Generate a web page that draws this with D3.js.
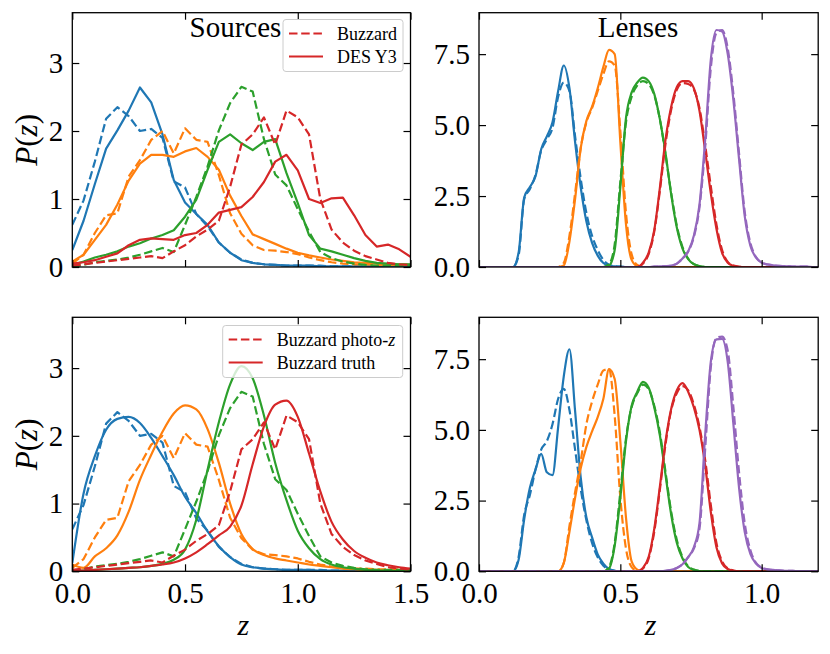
<!DOCTYPE html>
<html>
<head>
<meta charset="utf-8">
<script src="https://cdn.jsdelivr.net/npm/d3@7"></script>
<style>
  body { margin: 0; background: #fff; }
  svg { display: block; background: #fff; }
</style>
</head>
<body>
<script>
// redshift grid for the source bins
const zSrc = [0, 0.05, 0.1, 0.15, 0.2, 0.25, 0.3, 0.35, 0.4, 0.45, 0.5, 0.55, 0.6, 0.65, 0.7, 0.75,
  0.8, 0.85, 0.9, 0.95, 1.0, 1.05, 1.1, 1.15, 1.2, 1.25, 1.3, 1.35, 1.4, 1.45, 1.5];

// Buzzard photo-z, source bins (dashed, same in both rows)
const bzSrc1 = [0.62, 0.98, 1.55, 2.18, 2.35, 2.22, 2.0, 2.03, 1.9, 1.26, 1.17, 0.78, 0.6, 0.36, 0.21, 0.11, 0.06, 0.04, 0.03, 0.02, 0.02, 0.02, 0.02, 0.01, 0.01, 0.01, 0.01, 0.01, 0.01, 0.01, 0.01];
const bzSrc2 = [0.05, 0.18, 0.5, 0.76, 0.79, 1.33, 1.57, 1.87, 2.0, 1.67, 2.04, 1.87, 1.84, 1.35, 0.79, 0.49, 0.32, 0.25, 0.24, 0.22, 0.19, 0.14, 0.1, 0.07, 0.05, 0.04, 0.04, 0.03, 0.03, 0.03, 0.03];
const bzSrc3 = [0.0, 0.03, 0.07, 0.09, 0.11, 0.14, 0.18, 0.23, 0.28, 0.22, 0.62, 1.03, 1.48, 2.01, 2.41, 2.65, 2.58, 1.88, 1.36, 1.2, 0.85, 0.52, 0.22, 0.13, 0.08, 0.05, 0.03, 0.02, 0.02, 0.02, 0.02];
const bzSrc4 = [0.02, 0.04, 0.06, 0.08, 0.1, 0.12, 0.14, 0.16, 0.13, 0.23, 0.32, 0.45, 0.55, 0.68, 1.18, 1.8, 1.95, 2.2, 1.8, 2.3, 2.2, 1.95, 1.0, 0.55, 0.36, 0.24, 0.16, 0.11, 0.06, 0.04, 0.03];

// DES Y3, source bins
const desSrc1 = [0.25, 0.68, 1.22, 1.74, 2.01, 2.3, 2.64, 2.42, 1.95, 1.28, 0.95, 0.78, 0.62, 0.36, 0.21, 0.1, 0.06, 0.04, 0.03, 0.02, 0.02, 0.02, 0.01, 0.01, 0.01, 0.01, 0.01, 0.01, 0.01, 0.01, 0.01];
const desSrc2 = [0.08, 0.18, 0.4, 0.62, 0.92, 1.27, 1.52, 1.65, 1.65, 1.62, 1.7, 1.75, 1.62, 1.43, 1.05, 0.75, 0.48, 0.41, 0.34, 0.27, 0.21, 0.17, 0.14, 0.11, 0.09, 0.07, 0.06, 0.05, 0.04, 0.04, 0.03];
const desSrc3 = [0.03, 0.08, 0.14, 0.18, 0.23, 0.3, 0.35, 0.42, 0.47, 0.54, 0.74, 0.99, 1.43, 1.84, 1.95, 1.82, 1.72, 1.84, 1.88, 1.38, 0.94, 0.47, 0.27, 0.23, 0.18, 0.13, 0.09, 0.06, 0.05, 0.04, 0.04];
const desSrc4 = [0.05, 0.07, 0.1, 0.15, 0.2, 0.32, 0.4, 0.42, 0.41, 0.4, 0.47, 0.5, 0.62, 0.8, 0.84, 0.88, 1.03, 1.25, 1.55, 1.65, 1.42, 1.0, 0.94, 1.01, 1.02, 0.76, 0.47, 0.3, 0.33, 0.26, 0.15];

// Buzzard truth, source bins
const truthSrc1 = [0.12, 1.15, 1.7, 2.09, 2.25, 2.28, 2.19, 1.97, 1.7, 1.42, 1.1, 0.86, 0.59, 0.37, 0.21, 0.1, 0.06, 0.04, 0.03, 0.02, 0.02, 0.02, 0.01, 0.01, 0.01, 0.01, 0.01, 0.01, 0.01, 0.01, 0.01];
const truthSrc2 = [0.1, 0.05, 0.22, 0.34, 0.53, 0.88, 1.35, 1.72, 2.06, 2.33, 2.45, 2.39, 2.1, 1.6, 1.0, 0.55, 0.33, 0.24, 0.19, 0.16, 0.13, 0.1, 0.08, 0.06, 0.04, 0.03, 0.02, 0.02, 0.01, 0.01, 0.01];
const truthSrc3 = [0.0, 0.01, 0.02, 0.03, 0.04, 0.05, 0.06, 0.08, 0.11, 0.17, 0.32, 0.76, 1.5, 2.2, 2.76, 3.03, 2.85, 2.3, 1.6, 1.05, 0.6, 0.34, 0.18, 0.1, 0.06, 0.04, 0.02, 0.01, 0.01, 0.0, 0.0];
const truthSrc4 = [0.01, 0.01, 0.02, 0.03, 0.04, 0.05, 0.06, 0.08, 0.1, 0.13, 0.19, 0.28, 0.4, 0.53, 0.66, 0.97, 1.58, 2.14, 2.46, 2.52, 2.28, 1.74, 1.18, 0.73, 0.47, 0.3, 0.2, 0.13, 0.09, 0.06, 0.04];

// redshift grid for the lens bins
const zLens = [0, 0.02, 0.04, 0.06, 0.08, 0.1, 0.12, 0.14, 0.16, 0.18,
  0.2, 0.22, 0.24, 0.26, 0.28, 0.3, 0.32, 0.34, 0.36, 0.38,
  0.4, 0.42, 0.44, 0.46, 0.48, 0.5, 0.52, 0.54, 0.56, 0.58,
  0.6, 0.62, 0.64, 0.66, 0.68, 0.7, 0.72, 0.74, 0.76, 0.78,
  0.8, 0.82, 0.84, 0.86, 0.88, 0.9, 0.92, 0.94, 0.96, 0.98,
  1.0, 1.02, 1.04, 1.06, 1.08, 1.1, 1.12, 1.14, 1.16, 1.18, 1.2];

// top right: DES Y3 (solid) vs Buzzard (dashed)
const desLens1 = [0, 0, 0, 0, 0, 0, 0, 0.5, 2.45, 2.82,
  3.2, 4.15, 4.6, 5.1, 6.2, 7.1, 6.3, 4.4, 2.8, 1.6,
  0.85, 0.4, 0.14, 0.05, 0.02, 0.01, 0, 0, 0, 0,
  0, 0, 0, 0, 0, 0, 0, 0, 0, 0, 0, 0, 0, 0, 0, 0, 0, 0, 0, 0, 0, 0, 0, 0, 0, 0, 0, 0, 0, 0, 0];
const bzLensTop1 = [0, 0, 0, 0, 0, 0, 0, 0.4, 2.4, 2.75,
  3.25, 4.1, 4.5, 4.9, 6.0, 6.5, 6.2, 4.6, 3.1, 1.9,
  1.1, 0.6, 0.25, 0.08, 0.03, 0.01, 0, 0, 0, 0,
  0, 0, 0, 0, 0, 0, 0, 0, 0, 0, 0, 0, 0, 0, 0, 0, 0, 0, 0, 0, 0, 0, 0, 0, 0, 0, 0, 0, 0, 0, 0];
const desLens2 = [0, 0, 0, 0, 0, 0, 0, 0, 0, 0,
  0, 0, 0, 0, 0, 0.05, 0.9, 2.4, 4.2, 5.15,
  5.65, 6.3, 7.05, 7.65, 7.5, 4.4, 1.5, 0.25, 0.03, 0,
  0, 0, 0, 0, 0, 0, 0, 0, 0, 0, 0, 0, 0, 0, 0, 0, 0, 0, 0, 0, 0, 0, 0, 0, 0, 0, 0, 0, 0, 0, 0];
const bzLensTop2 = [0, 0, 0, 0, 0, 0, 0, 0, 0, 0,
  0, 0, 0, 0, 0, 0.15, 1.1, 2.6, 4.2, 5.1,
  5.6, 6.2, 6.8, 7.25, 7.1, 4.8, 1.9, 0.45, 0.07, 0,
  0, 0, 0, 0, 0, 0, 0, 0, 0, 0, 0, 0, 0, 0, 0, 0, 0, 0, 0, 0, 0, 0, 0, 0, 0, 0, 0, 0, 0, 0, 0];
const desLens3 = [0, 0, 0, 0, 0, 0, 0, 0, 0, 0, 0, 0, 0, 0, 0, 0, 0, 0, 0, 0,
  0, 0, 0, 0.05, 0.6, 2.8, 5.25, 6.15, 6.5, 6.67,
  6.55, 6.1, 5.2, 4.0, 2.55, 1.38, 0.65, 0.28, 0.1, 0.03,
  0, 0, 0, 0, 0, 0, 0, 0, 0, 0, 0, 0, 0, 0, 0, 0, 0, 0, 0, 0, 0];
const bzLensTop3 = [0, 0, 0, 0, 0, 0, 0, 0, 0, 0, 0, 0, 0, 0, 0, 0, 0, 0, 0, 0,
  0, 0, 0, 0.1, 0.8, 3.0, 5.1, 6.0, 6.4, 6.55,
  6.45, 6.05, 5.2, 3.95, 2.6, 1.45, 0.7, 0.3, 0.1, 0.03,
  0, 0, 0, 0, 0, 0, 0, 0, 0, 0, 0, 0, 0, 0, 0, 0, 0, 0, 0, 0, 0];
const desLens4 = [0, 0, 0, 0, 0, 0, 0, 0, 0, 0, 0, 0, 0, 0, 0, 0, 0, 0, 0, 0,
  0, 0, 0, 0, 0, 0, 0, 0, 0, 0.15,
  0.5, 1.3, 2.8, 4.5, 5.65, 6.34, 6.55, 6.55, 6.3, 5.5,
  4.1, 2.6, 1.35, 0.5, 0.15, 0.04, 0, 0, 0, 0,
  0, 0, 0, 0, 0, 0, 0, 0, 0, 0, 0];
const bzLensTop4 = [0, 0, 0, 0, 0, 0, 0, 0, 0, 0, 0, 0, 0, 0, 0, 0, 0, 0, 0, 0,
  0, 0, 0, 0, 0, 0, 0, 0, 0, 0.12,
  0.45, 1.25, 2.7, 4.35, 5.55, 6.25, 6.48, 6.45, 6.25, 5.6,
  4.3, 2.85, 1.5, 0.6, 0.18, 0.05, 0.01, 0, 0, 0,
  0, 0, 0, 0, 0, 0, 0, 0, 0, 0, 0];
const desLens5 = [0, 0, 0, 0, 0, 0, 0, 0, 0, 0, 0, 0, 0, 0, 0, 0, 0, 0, 0, 0, 0, 0, 0, 0, 0, 0, 0, 0, 0, 0,
  0, 0.01, 0.02, 0.03, 0.05, 0.12, 0.3, 0.55, 1.1, 2.2,
  4.47, 7.3, 8.35, 8.3, 7.5, 5.88, 3.8, 1.8, 0.75, 0.33,
  0.15, 0.09, 0.06, 0.04, 0.03, 0.02, 0.01, 0.01, 0.01, 0, 0];
const bzLensTop5 = [0, 0, 0, 0, 0, 0, 0, 0, 0, 0, 0, 0, 0, 0, 0, 0, 0, 0, 0, 0, 0, 0, 0, 0, 0, 0, 0, 0, 0, 0,
  0, 0.01, 0.02, 0.03, 0.05, 0.12, 0.3, 0.55, 1.05, 2.1,
  4.2, 7.0, 8.25, 8.35, 7.7, 6.1, 4.0, 1.95, 0.85, 0.35,
  0.16, 0.09, 0.06, 0.04, 0.03, 0.02, 0.01, 0.01, 0.01, 0, 0];

// bottom right: Buzzard truth (solid) vs Buzzard photo-z (dashed)
const truthLens1 = [0, 0, 0, 0, 0, 0, 0, 0.4, 1.85, 2.95,
  3.6, 4.15, 3.5, 3.4, 5.1, 6.9, 7.85, 5.66, 3.3, 1.9,
  1.2, 0.6, 0.27, 0.08, 0.02, 0, 0, 0, 0, 0,
  0, 0, 0, 0, 0, 0, 0, 0, 0, 0, 0, 0, 0, 0, 0, 0, 0, 0, 0, 0, 0, 0, 0, 0, 0, 0, 0, 0, 0, 0, 0];
const bzLensBot1 = [0, 0, 0, 0, 0, 0, 0, 0.5, 2.0, 2.7,
  3.6, 4.3, 4.6, 5.2, 6.1, 6.45, 5.7, 4.3, 2.9, 1.8,
  1.0, 0.5, 0.2, 0.07, 0.02, 0, 0, 0, 0, 0,
  0, 0, 0, 0, 0, 0, 0, 0, 0, 0, 0, 0, 0, 0, 0, 0, 0, 0, 0, 0, 0, 0, 0, 0, 0, 0, 0, 0, 0, 0, 0];
const truthLens2 = [0, 0, 0, 0, 0, 0, 0, 0, 0, 0,
  0, 0, 0, 0, 0, 0.3, 1.4, 2.6, 3.65, 4.4,
  4.95, 5.45, 6.1, 7.15, 6.8, 4.6, 1.9, 0.35, 0.06, 0,
  0, 0, 0, 0, 0, 0, 0, 0, 0, 0, 0, 0, 0, 0, 0, 0, 0, 0, 0, 0, 0, 0, 0, 0, 0, 0, 0, 0, 0, 0, 0];
const bzLensBot2 = [0, 0, 0, 0, 0, 0, 0, 0, 0, 0,
  0, 0, 0, 0, 0, 0.3, 1.6, 2.8, 3.9, 5.2,
  6.0, 6.6, 7.1, 7.15, 5.5, 2.6, 0.8, 0.15, 0.02, 0,
  0, 0, 0, 0, 0, 0, 0, 0, 0, 0, 0, 0, 0, 0, 0, 0, 0, 0, 0, 0, 0, 0, 0, 0, 0, 0, 0, 0, 0, 0, 0];
const truthLens3 = [0, 0, 0, 0, 0, 0, 0, 0, 0, 0, 0, 0, 0, 0, 0, 0, 0, 0, 0, 0,
  0, 0, 0, 0.1, 0.9, 2.6, 4.6, 5.85, 6.35, 6.7,
  6.5, 5.8, 4.8, 3.4, 2.0, 1.0, 0.45, 0.15, 0.05, 0.01,
  0, 0, 0, 0, 0, 0, 0, 0, 0, 0, 0, 0, 0, 0, 0, 0, 0, 0, 0, 0, 0];
const bzLensBot3 = [0, 0, 0, 0, 0, 0, 0, 0, 0, 0, 0, 0, 0, 0, 0, 0, 0, 0, 0, 0,
  0, 0, 0, 0.15, 1.0, 2.8, 4.7, 5.8, 6.3, 6.6,
  6.45, 5.85, 4.9, 3.5, 2.1, 1.1, 0.5, 0.18, 0.06, 0.01,
  0, 0, 0, 0, 0, 0, 0, 0, 0, 0, 0, 0, 0, 0, 0, 0, 0, 0, 0, 0, 0];
const truthLens4 = [0, 0, 0, 0, 0, 0, 0, 0, 0, 0, 0, 0, 0, 0, 0, 0, 0, 0, 0, 0,
  0, 0, 0, 0, 0, 0, 0, 0, 0, 0.12,
  0.5, 1.5, 3.0, 4.6, 5.75, 6.4, 6.65, 6.35, 5.8, 5.0,
  3.75, 2.1, 0.85, 0.28, 0.08, 0.02, 0, 0, 0, 0,
  0, 0, 0, 0, 0, 0, 0, 0, 0, 0, 0];
const bzLensBot4 = [0, 0, 0, 0, 0, 0, 0, 0, 0, 0, 0, 0, 0, 0, 0, 0, 0, 0, 0, 0,
  0, 0, 0, 0, 0, 0, 0, 0, 0, 0.1,
  0.45, 1.4, 2.9, 4.5, 5.7, 6.3, 6.55, 6.4, 5.9, 5.1,
  3.95, 2.35, 1.0, 0.35, 0.1, 0.03, 0, 0, 0, 0,
  0, 0, 0, 0, 0, 0, 0, 0, 0, 0, 0];
const truthLens5 = [0, 0, 0, 0, 0, 0, 0, 0, 0, 0, 0, 0, 0, 0, 0, 0, 0, 0, 0, 0, 0, 0, 0, 0, 0, 0, 0, 0, 0, 0,
  0, 0.01, 0.01, 0.02, 0.05, 0.12, 0.25, 0.5, 0.85, 1.7,
  4.8, 7.4, 8.2, 8.22, 7.4, 5.2, 2.95, 1.4, 0.62, 0.27,
  0.12, 0.07, 0.05, 0.03, 0.02, 0.02, 0.01, 0.01, 0.01, 0, 0];
const bzLensBot5 = [0, 0, 0, 0, 0, 0, 0, 0, 0, 0, 0, 0, 0, 0, 0, 0, 0, 0, 0, 0, 0, 0, 0, 0, 0, 0, 0, 0, 0, 0,
  0, 0.01, 0.01, 0.02, 0.05, 0.12, 0.25, 0.5, 0.8, 1.5,
  4.3, 7.2, 8.25, 8.3, 7.8, 5.8, 3.5, 1.7, 0.75, 0.3,
  0.13, 0.07, 0.05, 0.03, 0.02, 0.02, 0.01, 0.01, 0.01, 0, 0];

const srcTicksX = [0, 0.5, 1.0, 1.5];
const lensTicksX = [0, 0.5, 1.0];
const srcTicksY = [0, 1, 2, 3];
const lensTicksY = [0, 2.5, 5, 7.5];

const colors = ["#1f77b4", "#ff7f0e", "#2ca02c", "#d62728", "#9467bd"];
const FONT = '"Liberation Serif", "DejaVu Serif", serif';
const DASH = "8.5,3.7";

const svg = d3
  .select("body")
  .append("svg")
  .attr("width", 830)
  .attr("height", 654)
  .style("font-family", FONT);

// pairs of (dashed, solid) curves per bin
function pairs(dashed, solid) {
  const res = [];
  dashed.forEach((d, i) => {
    res.push({ values: d, color: colors[i], dashed: true });
    res.push({ values: solid[i], color: colors[i], dashed: false });
  });
  return res;
}

function drawPanel(p) {
  const x = d3.scaleLinear().domain([0, p.xMax]).range([p.left, p.right]);
  const y = d3.scaleLinear().domain([0, p.yMax]).range([p.bottom, p.top]);

  svg
    .append("clipPath")
    .attr("id", "clip-" + p.id)
    .append("rect")
    .attr("x", p.left)
    .attr("y", p.top)
    .attr("width", p.right - p.left)
    .attr("height", p.bottom - p.top);

  const g = svg.append("g").attr("clip-path", `url(#clip-${p.id})`);

  p.series.forEach((s) => {
    const line = d3
      .line()
      .x((d) => x(d[0]))
      .y((d) => y(d[1]))
      .curve(s.dashed ? p.curveDashed : p.curveSolid);
    g.append("path")
      .datum(d3.zip(p.z, s.values))
      .attr("fill", "none")
      .attr("stroke", s.color)
      .attr("stroke-width", 2.2)
      .attr("stroke-linejoin", "round")
      .attr("stroke-dasharray", s.dashed ? DASH : null)
      .attr("d", line);
  });

  // inward ticks on all four sides
  const axes = [
    d3.axisBottom(x).tickValues(p.xTicks).tickSize(-7).tickSizeOuter(0).tickPadding(11)
      .tickFormat(p.xLabels ? d3.format(".1f") : () => ""),
    d3.axisTop(x).tickValues(p.xTicks).tickSize(-7).tickSizeOuter(0).tickFormat(() => ""),
    d3.axisLeft(y).tickValues(p.yTicks).tickSize(-7).tickSizeOuter(0).tickPadding(9)
      .tickFormat(d3.format(p.yFormat)),
    d3.axisRight(y).tickValues(p.yTicks).tickSize(-7).tickSizeOuter(0).tickFormat(() => ""),
  ];
  const shifts = [
    `translate(0,${p.bottom})`,
    `translate(0,${p.top})`,
    `translate(${p.left},0)`,
    `translate(${p.right},0)`,
  ];
  axes.forEach((a, i) => {
    const ag = svg.append("g").attr("transform", shifts[i]).call(a);
    ag.attr("font-family", FONT).attr("font-size", 29);
    ag.select(".domain").remove();
    ag.selectAll(".tick line").attr("stroke", "#000").attr("stroke-width", 1.2);
    ag.selectAll(".tick text").attr("fill", "#000");
  });

  svg
    .append("rect")
    .attr("x", p.left)
    .attr("y", p.top)
    .attr("width", p.right - p.left)
    .attr("height", p.bottom - p.top)
    .attr("fill", "none")
    .attr("stroke", "#000")
    .attr("stroke-width", 1.3);

  if (p.title) {
    svg
      .append("text")
      .attr("x", p.titleX)
      .attr("y", p.top + 24.6)
      .attr("text-anchor", "middle")
      .attr("font-size", 29)
      .text(p.title);
  }

  if (p.yLabel) {
    const t = svg
      .append("text")
      .attr("transform", `translate(36.5,${(p.top + p.bottom) / 2}) rotate(-90)`)
      .attr("text-anchor", "middle")
      .attr("font-size", 31);
    t.append("tspan").attr("font-style", "italic").text("P");
    t.append("tspan").text("(");
    t.append("tspan").attr("font-style", "italic").text("z");
    t.append("tspan").text(")");
  }

  if (p.xLabels) {
    svg
      .append("text")
      .attr("x", (p.left + p.right) / 2 + 2)
      .attr("y", 635)
      .attr("text-anchor", "middle")
      .attr("font-size", 30)
      .attr("font-style", "italic")
      .text("z");
  }

  if (p.legend) drawLegend(p.legend);
}

function drawLegend(lg) {
  const g = svg.append("g");
  g.append("rect")
    .attr("x", lg.x)
    .attr("y", lg.y)
    .attr("width", lg.w)
    .attr("height", 52)
    .attr("rx", 3)
    .attr("fill", "#fff")
    .attr("fill-opacity", 0.8)
    .attr("stroke", "#cccccc")
    .attr("stroke-width", 1);
  lg.labels.forEach((lab, i) => {
    const cy = lg.y + 14 + i * 23;
    g.append("line")
      .attr("x1", lg.x + 6)
      .attr("x2", lg.x + 40)
      .attr("y1", cy)
      .attr("y2", cy)
      .attr("stroke", colors[3])
      .attr("stroke-width", 2.2)
      .attr("stroke-dasharray", i === 0 ? DASH : null);
    const t = g
      .append("text")
      .attr("x", lg.x + 54)
      .attr("y", cy + 6)
      .attr("font-size", 18);
    lab.forEach((part) => {
      t.append("tspan")
        .attr("font-style", part.italic ? "italic" : null)
        .text(part.text);
    });
  });
}

const rowTop = { top: 12.7, bottom: 267 };
const rowBot = { top: 317.3, bottom: 571.3 };
const colL = { left: 72.3, right: 410.5 };
const colR = { left: 479, right: 818.2 };

drawPanel({
  id: "tl", ...colL, ...rowTop,
  xMax: 1.5, yMax: 3.74, xTicks: srcTicksX, yTicks: srcTicksY, yFormat: "d",
  z: zSrc, curveDashed: d3.curveLinear, curveSolid: d3.curveLinear,
  series: pairs([bzSrc1, bzSrc2, bzSrc3, bzSrc4], [desSrc1, desSrc2, desSrc3, desSrc4]),
  xLabels: false, yLabel: true, title: "Sources", titleX: 235.5,
  legend: {
    x: 283, y: 19.5, w: 120,
    labels: [[{ text: "Buzzard" }], [{ text: "DES Y3" }]],
  },
});

drawPanel({
  id: "tr", ...colR, ...rowTop,
  xMax: 1.2, yMax: 8.96, xTicks: lensTicksX, yTicks: lensTicksY, yFormat: ".1f",
  z: zLens, curveDashed: d3.curveMonotoneX, curveSolid: d3.curveMonotoneX,
  series: pairs([bzLensTop1, bzLensTop2, bzLensTop3, bzLensTop4, bzLensTop5],
    [desLens1, desLens2, desLens3, desLens4, desLens5]),
  xLabels: false, yLabel: false, title: "Lenses", titleX: 638,
});

drawPanel({
  id: "bl", ...colL, ...rowBot,
  xMax: 1.5, yMax: 3.75, xTicks: srcTicksX, yTicks: srcTicksY, yFormat: "d",
  z: zSrc, curveDashed: d3.curveLinear, curveSolid: d3.curveMonotoneX,
  series: pairs([bzSrc1, bzSrc2, bzSrc3, bzSrc4], [truthSrc1, truthSrc2, truthSrc3, truthSrc4]),
  xLabels: true, yLabel: true,
  legend: {
    x: 222.7, y: 325.5, w: 180,
    labels: [[{ text: "Buzzard photo-" }, { text: "z", italic: true }], [{ text: "Buzzard truth" }]],
  },
});

drawPanel({
  id: "br", ...colR, ...rowBot,
  xMax: 1.2, yMax: 8.98, xTicks: lensTicksX, yTicks: lensTicksY, yFormat: ".1f",
  z: zLens, curveDashed: d3.curveMonotoneX, curveSolid: d3.curveMonotoneX,
  series: pairs([bzLensBot1, bzLensBot2, bzLensBot3, bzLensBot4, bzLensBot5],
    [truthLens1, truthLens2, truthLens3, truthLens4, truthLens5]),
  xLabels: true, yLabel: false,
});
</script>
</body>
</html>
